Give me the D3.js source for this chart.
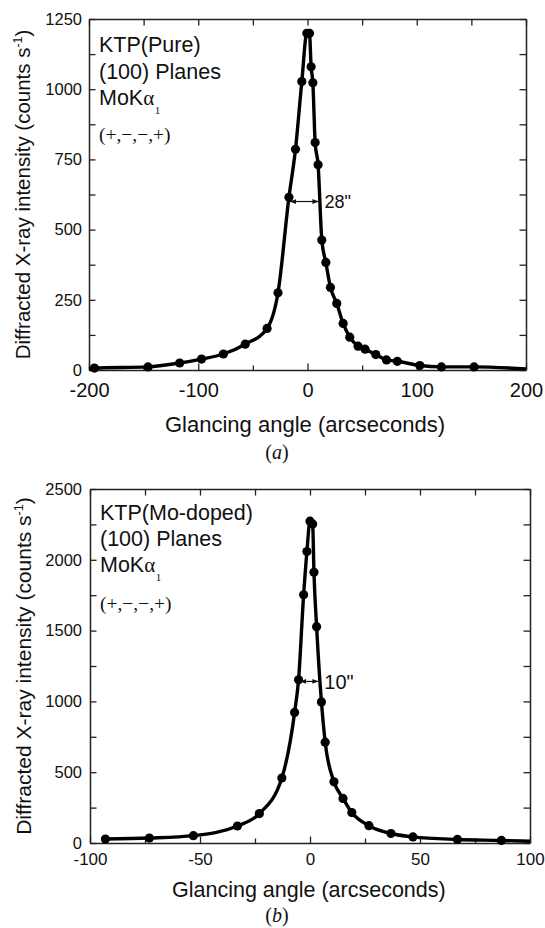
<!DOCTYPE html>
<html>
<head>
<meta charset="utf-8">
<script src="https://cdn.jsdelivr.net/npm/d3@7/dist/d3.min.js"></script>
<style>
  html, body { margin: 0; padding: 0; background: #ffffff; }
  svg { display: block; }
  text { font-family: "Liberation Sans", Arial, sans-serif; fill: #111; }
  .serif { font-family: "Liberation Serif", "Times New Roman", serif; }
</style>
</head>
<body>
<svg id="chart" width="545" height="928"></svg>
<script>
// ---------- Panel (a): KTP (Pure) ----------
const aAngle = [-195, -146, -117, -97, -77, -57, -37, -27, -17, -11, -5.2, -0.6, 1.8, 3.3, 4.9, 7, 9.7, 13.1, 16.8, 21, 26.8, 32.6, 38.7, 46.3, 52.7, 62.5, 72.3, 82.2, 102.8, 122.6, 152.5];
const aIntensity = [7, 11, 25, 39, 57, 92, 148, 275, 615, 786, 1027, 1199, 1199, 1080, 1023, 810, 731, 463, 383, 294, 237, 166, 117, 85, 74, 55, 36, 31, 16, 11, 11];
const aLineStart = [-200, 5];
const aLineEnd = [200, 4];
const aXTicks = [-200, -100, 0, 100, 200];
const aXMinor = [-150, -50, 50, 150];
const aYTicks = [0, 250, 500, 750, 1000, 1250];
const aYMinor = [125, 375, 625, 875, 1125];
const aFwhm = [-16, 10];
const aFwhmLevel = 600;
const aFwhmLabel = "28\"";
const aLabels = ["KTP(Pure)", "(100) Planes"];

// ---------- Panel (b): KTP (Mo-doped) ----------
const bAngle = [-93, -73, -53, -33, -23, -12.8, -7, -5.2, -2.9, -1.4, 0, 1.2, 1.8, 3, 5.2, 6.9, 10.9, 15, 19, 26.8, 36.8, 46.8, 67, 87];
const bIntensity = [28, 35, 52, 120, 208, 459, 922, 1153, 1753, 2058, 2273, 2252, 1912, 1528, 996, 712, 432, 315, 215, 122, 67, 43, 25, 18];
const bLineEnd = [100, 12];
const bXTicks = [-100, -50, 0, 50, 100];
const bXMinor = [-75, -25, 25, 75];
const bYTicks = [0, 500, 1000, 1500, 2000, 2500];
const bYMinor = [250, 750, 1250, 1750, 2250];
const bFwhm = [-4.5, 3.8];
const bFwhmLevel = 1141;
const bFwhmLabel = "10\"";
const bLabels = ["KTP(Mo-doped)", "(100) Planes"];

const xTitle = "Glancing angle (arcseconds)";

const svg = d3.select("#chart");
svg.append("rect").attr("width", 545).attr("height", 928).attr("fill", "#ffffff");

const defs = svg.append("defs");
function marker(id, orient) {
  defs.append("marker")
    .attr("id", id).attr("viewBox", "0 0 10 10")
    .attr("refX", 10).attr("refY", 5)
    .attr("markerWidth", 5).attr("markerHeight", 5)
    .attr("markerUnits", "strokeWidth")
    .attr("orient", orient)
    .append("path").attr("d", "M0,1 L10,5 L0,9 Z").attr("fill", "#111");
}
marker("arrowEnd", "auto");
marker("arrowStart", "auto-start-reverse");

function panel(cfg) {
  const g = svg.append("g");
  const x = d3.scaleLinear().domain(cfg.xDomain).range([cfg.left, cfg.right]);
  const y = d3.scaleLinear().domain(cfg.yDomain).range([cfg.bottom, cfg.top]);
  const tick = 6.5, minorTick = 4.5;

  const styleAxis = sel => {
    sel.select(".domain").attr("stroke", "#222").attr("stroke-width", 1.5);
    sel.selectAll(".tick line").attr("stroke", "#222").attr("stroke-width", 1.3);
  };
  const bottomAx = g.append("g").attr("transform", `translate(0,${cfg.bottom})`)
    .call(d3.axisBottom(x).tickValues(cfg.xTicks).tickSize(-tick).tickSizeOuter(0)
      .tickPadding(cfg.xPad).tickFormat(d3.format("d")));
  bottomAx.selectAll("text").attr("font-size", cfg.xTickFont).attr("fill", "#111")
    .text(d => d < 0 ? "-" + Math.abs(d) : String(d));
  styleAxis(bottomAx);
  g.append("g").attr("transform", `translate(0,${cfg.bottom})`)
    .call(d3.axisBottom(x).tickValues(cfg.xMinor).tickSize(-minorTick).tickSizeOuter(0).tickFormat(""))
    .call(s => { s.select(".domain").remove(); styleAxis(s); });

  const topAx = g.append("g").attr("transform", `translate(0,${cfg.top})`)
    .call(d3.axisTop(x).tickValues(cfg.xTicks.concat(cfg.xMinor)).tickSize(-tick).tickSizeOuter(0).tickFormat(""));
  styleAxis(topAx);

  const leftAx = g.append("g").attr("transform", `translate(${cfg.left},0)`)
    .call(d3.axisLeft(y).tickValues(cfg.yTicks).tickSize(-tick).tickSizeOuter(0)
      .tickPadding(cfg.yPad).tickFormat(d3.format("d")));
  leftAx.selectAll("text").attr("font-size", cfg.yTickFont).attr("fill", "#111");
  styleAxis(leftAx);
  g.append("g").attr("transform", `translate(${cfg.left},0)`)
    .call(d3.axisLeft(y).tickValues(cfg.yMinor).tickSize(-tick).tickSizeOuter(0).tickFormat(""))
    .call(s => { s.select(".domain").remove(); styleAxis(s); });

  const rightAx = g.append("g").attr("transform", `translate(${cfg.right},0)`)
    .call(d3.axisRight(y).tickValues(cfg.yTicks.concat(cfg.yMinor)).tickSize(-tick).tickSizeOuter(0).tickFormat(""));
  styleAxis(rightAx);

  const pts = cfg.xs.map((v, i) => [v, cfg.ys[i]]);
  const linePts = (cfg.start ? [cfg.start] : []).concat(pts, cfg.end ? [cfg.end] : []);
  g.append("path")
    .datum(linePts)
    .attr("fill", "none").attr("stroke", "#000").attr("stroke-width", 3.4)
    .attr("stroke-linejoin", "round")
    .attr("d", d3.line().x(d => x(d[0])).y(d => y(d[1])).curve(d3.curveMonotoneX));

  g.selectAll("circle.pt").data(pts).join("circle")
    .attr("class", "pt")
    .attr("cx", d => x(d[0])).attr("cy", d => y(d[1]))
    .attr("r", 4.6).attr("fill", "#000");

  g.append("line")
    .attr("x1", x(cfg.fwhm[0])).attr("x2", x(cfg.fwhm[1]))
    .attr("y1", y(cfg.fwhmLevel)).attr("y2", y(cfg.fwhmLevel))
    .attr("stroke", "#111").attr("stroke-width", 1.2)
    .attr("marker-start", "url(#arrowStart)").attr("marker-end", "url(#arrowEnd)");
  g.append("text")
    .attr("x", x(cfg.fwhm[1]) + 6).attr("y", y(cfg.fwhmLevel))
    .attr("dy", "0.36em")
    .attr("font-size", cfg.fwhmFont)
    .text(cfg.fwhmLabel);

  const lx = cfg.left + 10;
  const fs = 21.5;
  g.append("text").attr("x", lx).attr("y", cfg.lab[0]).attr("font-size", fs).text(cfg.labels[0]);
  g.append("text").attr("x", lx).attr("y", cfg.lab[1]).attr("font-size", fs).text(cfg.labels[1]);
  const mo = g.append("text").attr("x", lx).attr("y", cfg.lab[2]).attr("font-size", fs);
  mo.append("tspan").text("MoK");
  mo.append("tspan").attr("class", "serif").attr("font-size", 21).text("α");
  mo.append("tspan").attr("class", "serif").attr("font-size", 11).attr("dy", 9).attr("dx", 0.5).text("1");
  g.append("text").attr("class", "serif").attr("x", lx).attr("y", cfg.lab[3])
    .attr("font-size", 19.5).text("(+,\u2212,\u2212,+)");

  const yt = g.append("text")
    .attr("transform", `translate(${cfg.yTitleX},${(cfg.top + cfg.bottom) / 2}) rotate(-90)`)
    .attr("text-anchor", "middle").attr("font-size", cfg.yTitleFont);
  yt.append("tspan").text("Diffracted X-ray intensity (counts s");
  yt.append("tspan").attr("font-size", cfg.yTitleFont * 0.6).attr("dy", -cfg.yTitleFont * 0.38).text("-1");
  yt.append("tspan").attr("dy", cfg.yTitleFont * 0.38).text(")");

  g.append("text").attr("x", cfg.xTitleX).attr("y", cfg.xTitleY)
    .attr("font-size", cfg.xTitleFont).text(xTitle);

  const pl = g.append("text").attr("class", "serif").attr("x", 277).attr("y", cfg.letterY)
    .attr("text-anchor", "middle").attr("font-size", 20);
  pl.append("tspan").text("(");
  pl.append("tspan").attr("font-style", "italic").text(cfg.letter);
  pl.append("tspan").text(")");
}

panel({
  xs: aAngle, ys: aIntensity, start: aLineStart, end: aLineEnd,
  xDomain: [-200, 200], yDomain: [0, 1250],
  left: 89, right: 526, top: 19, bottom: 370,
  xTicks: aXTicks, xMinor: aXMinor, yTicks: aYTicks, yMinor: aYMinor,
  xPad: 13, yPad: 7, xTickFont: 20, yTickFont: 16.5,
  fwhm: aFwhm, fwhmLevel: aFwhmLevel, fwhmLabel: aFwhmLabel, fwhmFont: 18,
  labels: aLabels, lab: [52, 79, 105, 141],
  yTitleX: 30, yTitleFont: 20.5,
  xTitleX: 165, xTitleY: 432, xTitleFont: 22,
  letter: "a", letterY: 459
});

panel({
  xs: bAngle, ys: bIntensity, start: null, end: bLineEnd,
  xDomain: [-100, 100], yDomain: [0, 2500],
  left: 90, right: 530, top: 489, bottom: 843,
  xTicks: bXTicks, xMinor: bXMinor, yTicks: bYTicks, yMinor: bYMinor,
  xPad: 10, yPad: 8, xTickFont: 17, yTickFont: 16.5,
  fwhm: bFwhm, fwhmLevel: bFwhmLevel, fwhmLabel: bFwhmLabel, fwhmFont: 20,
  labels: bLabels, lab: [520, 546, 572, 610],
  yTitleX: 31, yTitleFont: 21,
  xTitleX: 172, xTitleY: 897, xTitleFont: 21.5,
  letter: "b", letterY: 922
});
</script>
</body>
</html>
